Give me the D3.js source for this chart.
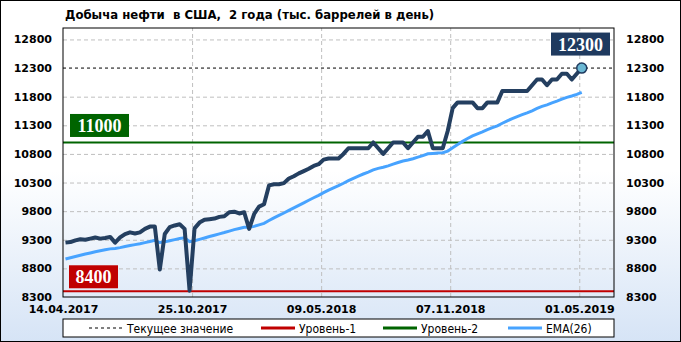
<!DOCTYPE html>
<html>
<head>
<meta charset="utf-8">
<script src="https://cdn.jsdelivr.net/npm/d3@7/dist/d3.min.js"></script>
<style>
body { margin: 0; background: #fff; }
#chart text { font-family: "DejaVu Sans", Verdana, sans-serif; }
</style>
</head>
<body>
<div id="chart"></div>
<script>
// weekly production, thousand barrels per day
var production = [
    9250, 9260, 9290, 9310, 9300, 9320, 9340, 9320, 9330, 9350,
    9250, 9340, 9400, 9430, 9410, 9430, 9490, 9530, 9530, 8780,
    9400, 9520, 9550, 9570, 9490, 8410, 9500, 9600, 9650, 9660,
    9670, 9700, 9710, 9780, 9790, 9760, 9780, 9490, 9750, 9880,
    9920, 10250, 10270, 10270, 10290, 10370, 10410, 10460, 10500, 10540,
    10590, 10620, 10700, 10720, 10720, 10720, 10800, 10900, 10900, 10900,
    10900, 10900, 11000, 10900, 10800, 10900, 11000, 11000, 11000, 10900,
    11000, 11100, 11100, 11200, 10900, 10900, 10900, 11200, 11600, 11700,
    11700, 11700, 11700, 11600, 11600, 11700, 11700, 11700, 11900, 11900,
    11900, 11900, 11900, 11900, 12000, 12100, 12100, 12000, 12100, 12100,
    12200, 12200, 12100, 12200, 12300
];
var ema26 = [
    8964, 8986, 9008, 9030, 9050, 9070, 9090, 9107, 9124, 9141,
    9149, 9163, 9181, 9199, 9215, 9231, 9250, 9271, 9290, 9252,
    9263, 9282, 9302, 9322, 9334, 9266, 9283, 9307, 9332, 9356,
    9379, 9403, 9426, 9452, 9477, 9498, 9519, 9517, 9534, 9560,
    9587, 9636, 9683, 9726, 9768, 9813, 9857, 9902, 9946, 9990,
    10034, 10077, 10123, 10167, 10208, 10246, 10287, 10332, 10374, 10413,
    10449, 10482, 10520, 10548, 10567, 10592, 10622, 10650, 10676, 10693,
    10716, 10744, 10770, 10802, 10809, 10816, 10822, 10850, 10906, 10965,
    11019, 11069, 11116, 11152, 11185, 11223, 11258, 11291, 11336, 11378,
    11417, 11453, 11486, 11517, 11553, 11594, 11631, 11658, 11691, 11721,
    11756, 11789, 11812, 11841, 11875
];
var tickIndex = [0, 26, 52, 78, 104];
var tickLabels = ["14.04.2017", "25.10.2017", "09.05.2018", "07.11.2018", "01.05.2019"];
var yTicks = [8300, 8800, 9300, 9800, 10300, 10800, 11300, 11800, 12300, 12800];
var yRange = [8300, 13000];
var slots = 111;
var level1 = 8400, level2 = 11000, current = 12300;
var legendNames = ["Текущее значение", "Уровень-1", "Уровень-2", "EMA(26)"];
var title = "Добыча нефти  в США,  2 года (тыс. баррелей в день)";

var W = 681, H = 342;
var margin = {top: 28, right: 67, bottom: 45, left: 63};
var width = W - margin.left - margin.right;
var height = H - margin.top - margin.bottom;

var svg = d3.select("#chart").append("svg")
    .attr("width", W)
    .attr("height", H);

var grad = svg.append("defs").append("linearGradient")
    .attr("id", "bg")
    .attr("x1", 0).attr("y1", 0).attr("x2", 0).attr("y2", 1);
grad.append("stop").attr("offset", "0").attr("stop-color", "#ffffff");
grad.append("stop").attr("offset", "0.5").attr("stop-color", "#ffffff");
grad.append("stop").attr("offset", "1").attr("stop-color", "#d6e4f6");

svg.append("rect")
    .attr("x", 0.5).attr("y", 0.5)
    .attr("width", W - 1).attr("height", H - 1)
    .attr("fill", "url(#bg)")
    .attr("stroke", "#000");

svg.append("text")
    .attr("x", 65).attr("y", 19)
    .attr("font-size", 13)
    .attr("font-weight", "bold")
    .style("white-space", "pre")
    .style("font-family", "'DejaVu Sans Condensed', 'DejaVu Sans', sans-serif")
    .text(title);

var g = svg.append("g")
    .attr("transform", "translate(" + margin.left + "," + margin.top + ")");

var x = d3.scaleLinear().domain([0, slots]).range([0, width]);
var y = d3.scaleLinear().domain(yRange).range([height, 0]);
var xPos = function(i) { return x(i + 0.5); };

// grid
g.append("g")
    .attr("class", "grid")
    .call(d3.axisLeft(y).tickValues(yTicks.filter(function(d) { return d != yRange[0] && d != current; }))
        .tickSize(-width).tickFormat(""))
    .call(function(a) {
        a.select(".domain").remove();
        a.selectAll("line").attr("stroke", "#bfbfbf").attr("stroke-dasharray", "4,3");
    });

g.append("g")
    .attr("class", "grid")
    .attr("transform", "translate(0," + height + ")")
    .call(d3.axisBottom(x).tickValues(tickIndex.slice(1)).tickSize(-height).tickFormat(""))
    .call(function(a) {
        a.select(".domain").remove();
        a.selectAll("line").attr("stroke", "#bfbfbf").attr("stroke-dasharray", "4,3");
    });

// y axes
function styleAxis(a) {
    a.select(".domain").remove();
    a.selectAll("line").remove();
    a.selectAll("text")
        .attr("font-size", 11)
        .attr("font-weight", "bold")
        .attr("fill", "#000");
}
g.append("g")
    .call(d3.axisLeft(y).tickValues(yTicks).tickSize(0).tickPadding(11).tickFormat(d3.format("d")))
    .call(styleAxis);
g.append("g")
    .attr("transform", "translate(" + width + ",0)")
    .call(d3.axisRight(y).tickValues(yTicks).tickSize(0).tickPadding(12).tickFormat(d3.format("d")))
    .call(styleAxis);

// x axis labels
g.append("g")
    .attr("transform", "translate(0," + height + ")")
    .call(d3.axisBottom(x).tickValues(tickIndex).tickSize(0).tickPadding(8)
        .tickFormat(function(d, i) { return tickLabels[i]; }))
    .call(styleAxis);

// levels
g.append("line")
    .attr("x1", 0).attr("x2", width)
    .attr("y1", y(current)).attr("y2", y(current))
    .attr("stroke", "#000").attr("stroke-dasharray", "3,3");
g.append("line")
    .attr("x1", 0).attr("x2", width)
    .attr("y1", y(level1)).attr("y2", y(level1))
    .attr("stroke", "#c00000").attr("stroke-width", 2);
g.append("line")
    .attr("x1", 0).attr("x2", width)
    .attr("y1", y(level2)).attr("y2", y(level2))
    .attr("stroke", "#006400").attr("stroke-width", 2);

// series
var line = d3.line()
    .x(function(d, i) { return xPos(i); })
    .y(function(d) { return y(d); });

g.append("path")
    .datum(ema26)
    .attr("fill", "none")
    .attr("stroke", "#47a3ff")
    .attr("stroke-width", 3)
    .attr("d", line);

g.append("path")
    .datum(production)
    .attr("fill", "none")
    .attr("stroke", "#243f60")
    .attr("stroke-width", 4)
    .attr("stroke-linejoin", "round")
    .attr("d", line);

var last = production.length - 1;
g.append("circle")
    .attr("cx", xPos(last)).attr("cy", y(production[last]))
    .attr("r", 5)
    .attr("fill", "#6bb8d4")
    .attr("stroke", "#1f3a5f")
    .attr("stroke-width", 1.5);

// value boxes (left edge, vertical centre)
function valueBox(val, left, cy, fill) {
    var bw = String(val).length * 10 + 9, bh = 23;
    var b = g.append("g").attr("transform", "translate(" + left + "," + (cy - bh / 2) + ")");
    b.append("rect").attr("width", bw).attr("height", bh).attr("fill", fill);
    b.append("text")
        .attr("x", bw / 2).attr("y", bh / 2 + 6.5)
        .attr("text-anchor", "middle")
        .attr("fill", "#fff")
        .attr("font-size", 18)
        .attr("font-weight", "bold")
        .style("font-family", "'Liberation Serif', 'Times New Roman', serif")
        .text(val);
}
valueBox(current, x(slots) - 63, y(current) - 24, "#1f3a5f");
valueBox(level2, 7, y(level2) - 17, "#006400");
valueBox(level1, 6, y(level1) - 14.5, "#c00000");

// plot border
g.append("rect")
    .attr("width", width).attr("height", height)
    .attr("fill", "none").attr("stroke", "#000");

// legend
var lg = svg.append("g").attr("transform", "translate(" + margin.left + ",319)");
lg.append("rect").attr("width", width).attr("height", 18)
    .attr("fill", "#fff").attr("stroke", "#000");
var legendX = [26, 198, 320, 445];
var legendStroke = ["#000", "#c00000", "#006400", "#47a3ff"];
legendNames.forEach(function(name, i) {
    lg.append("line")
        .attr("x1", legendX[i]).attr("x2", legendX[i] + 34)
        .attr("y1", 9).attr("y2", 9)
        .attr("stroke", legendStroke[i])
        .attr("stroke-width", i == 0 ? 1 : 3)
        .attr("stroke-dasharray", i == 0 ? "3,3" : null);
    lg.append("text")
        .attr("x", legendX[i] + 38).attr("y", 13.5)
        .attr("font-size", 12)
        .style("font-family", "'DejaVu Sans Condensed', 'DejaVu Sans', sans-serif")
        .text(name);
});
</script>
</body>
</html>
